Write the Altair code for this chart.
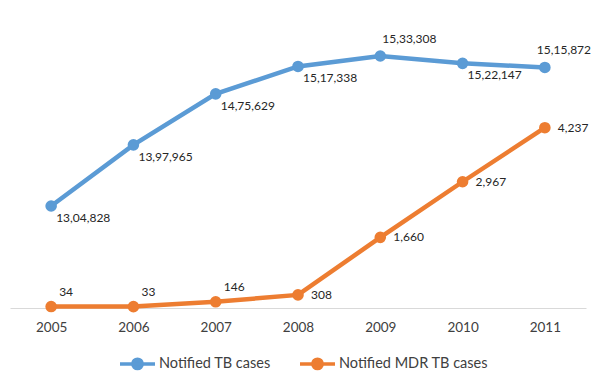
import altair as alt
import pandas as pd

years = ["2005", "2006", "2007", "2008", "2009", "2010", "2011"]
tb_cases = [1304828, 1397965, 1475629, 1517338, 1533308, 1522147, 1515872]
mdr_cases = [34, 33, 146, 308, 1660, 2967, 4237]
tb_label_pos = ["below", "below", "below", "below", "above", "below", "above_end"]
mdr_label_pos = ["above", "above", "above", "right", "right", "right", "right"]
series_names = ["Notified TB cases", "Notified MDR TB cases"]
series_colors = ["#5B9BD5", "#ED7D31"]


def indian(n):
    s = str(int(n))
    if len(s) <= 3:
        return s
    last3 = s[-3:]
    rest = s[:-3]
    groups = []
    while len(rest) > 2:
        groups.insert(0, rest[-2:])
        rest = rest[:-2]
    if rest:
        groups.insert(0, rest)
    return ",".join(groups + [last3])


df_tb = pd.DataFrame({
    "year": years, "value": tb_cases,
    "label": [indian(v) for v in tb_cases],
    "pos": tb_label_pos, "series": series_names[0]})
df_mdr = pd.DataFrame({
    "year": years, "value": mdr_cases,
    "label": [indian(v) for v in mdr_cases],
    "pos": mdr_label_pos, "series": series_names[1]})

FONT = "Lato"

x = alt.X("year:O", sort=years, scale=alt.Scale(type="point", padding=0.5),
          axis=alt.Axis(title=None, labelAngle=0, domainColor="#d9d9d9", domainWidth=1,
                        ticks=False, labelFontSize=13.5, labelColor="#404040",
                        labelPadding=12, labelFont=FONT, grid=False))

legend_path = ("M-1,0L1,0M0.27,0A0.27,0.27,0,1,1,-0.27,0A0.27,0.27,0,1,1,0.27,0Z")
color = alt.Color(
    "series:N",
    scale=alt.Scale(domain=series_names, range=series_colors),
    legend=alt.Legend(
        title=None, orient="none", direction="horizontal",
        legendX=108, legendY=324,
        symbolType=legend_path, symbolSize=1225, symbolStrokeWidth=3.5,
        labelFont=FONT, labelFontSize=14.5, labelColor="#404040",
        labelOffset=2, columnPadding=22, labelLimit=300))


def series_layer(df, domain):
    y = alt.Y("value:Q", scale=alt.Scale(domain=domain, nice=False, zero=False), axis=None)
    base = alt.Chart(df).encode(x=x, y=y)
    line = base.mark_line(strokeWidth=4.5).encode(color=color)
    pts = base.mark_point(filled=True, size=135, opacity=1).encode(color=color)
    return line, pts, base


tb_line, tb_pts, tb_base = series_layer(df_tb, [1149460, 1588140])
mdr_line, mdr_pts, mdr_base = series_layer(df_mdr, [0, 6768])

text_style = dict(font=FONT, fontSize=12, color="#262626", baseline="middle", align="left")

tb_below = tb_base.transform_filter(alt.datum.pos == "below").mark_text(dx=5, dy=12, **text_style).encode(text="label:N")
tb_above = tb_base.transform_filter(alt.datum.pos == "above").mark_text(dx=2, dy=-17, **text_style).encode(text="label:N")
tb_above_end = tb_base.transform_filter(alt.datum.pos == "above_end").mark_text(dx=-8, dy=-17, **text_style).encode(text="label:N")
mdr_above = mdr_base.transform_filter(alt.datum.pos == "above").mark_text(dx=8, dy=-15, **text_style).encode(text="label:N")
mdr_right = mdr_base.transform_filter(alt.datum.pos == "right").mark_text(dx=13, dy=0, **text_style).encode(text="label:N")

tb_layer = alt.layer(tb_line, tb_pts, tb_below, tb_above, tb_above_end)
mdr_layer = alt.layer(mdr_line, mdr_pts, mdr_above, mdr_right)

chart = alt.layer(tb_layer, mdr_layer).resolve_scale(y="independent").properties(
    width=576, height=288,
    padding={"left": 2, "right": 6, "top": 12, "bottom": 63},
    autosize=alt.AutoSizeParams(type="none"),
    background="white",
).configure_view(stroke=None)

chart.save("out.html", embed_options={"renderer": "svg", "actions": False})
